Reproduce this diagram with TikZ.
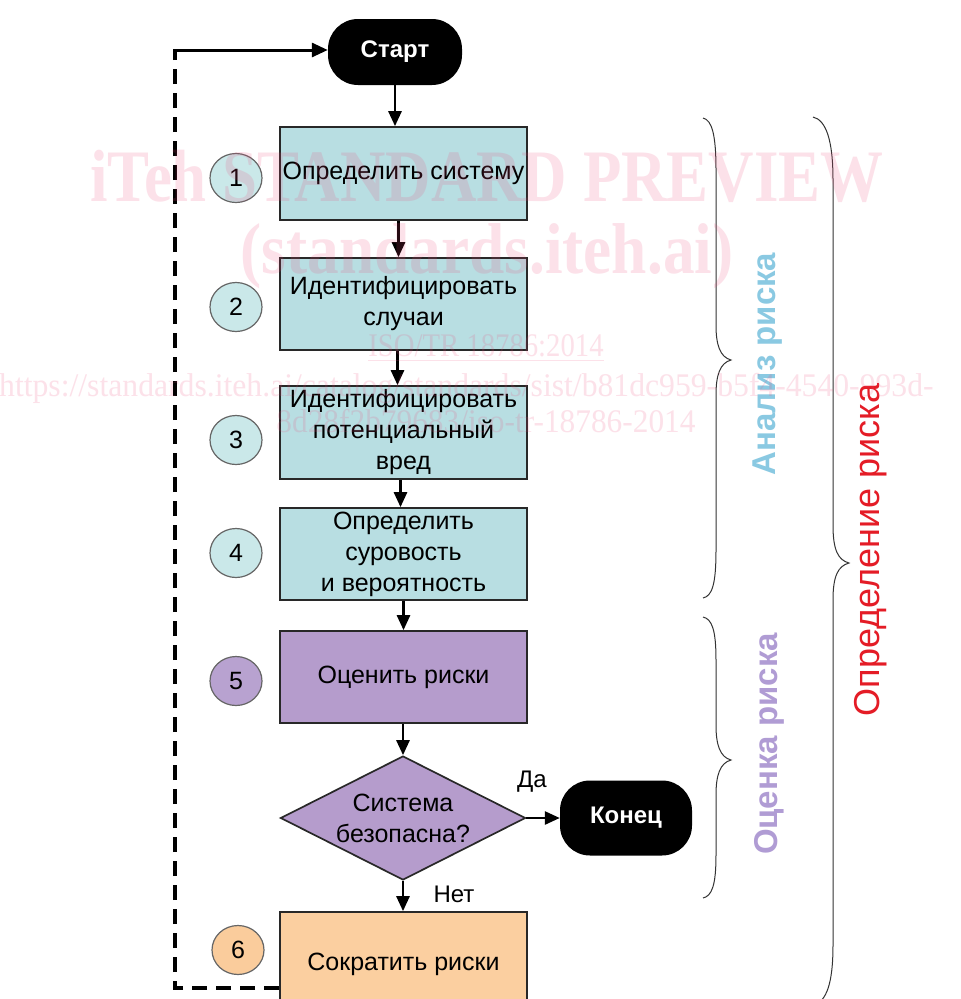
\documentclass[tikz,border=0pt]{standalone}
\usepackage{fontspec}
\setmainfont{Liberation Sans}
\newfontfamily\wmfont{Liberation Serif}
\usetikzlibrary{shapes.geometric,arrows.meta}
\definecolor{boxblue}{RGB}{184,222,226}
\definecolor{numblue}{RGB}{202,232,233}
\definecolor{boxpurple}{RGB}{181,156,204}
\definecolor{numpurple}{RGB}{184,162,208}
\definecolor{boxorange}{RGB}{251,207,160}
\definecolor{numorange}{RGB}{250,204,156}
\definecolor{lblblue}{RGB}{138,201,226}
\definecolor{lblpurple}{RGB}{176,156,212}
\definecolor{lblred}{RGB}{228,28,38}
\definecolor{wmpink}{RGB}{238,70,120}
\definecolor{outline}{RGB}{40,40,40}
\begin{document}
\begin{tikzpicture}[x=1pt,y=-1pt,
  stepbox/.style={draw=outline,line width=1.7pt,minimum width=247pt,inner sep=0pt,align=center,font=\fontsize{25}{31}\selectfont},
  term/.style={fill=black,rounded corners=30pt,minimum width=134pt,minimum height=66pt,inner sep=0pt,text=white,font=\bfseries\fontsize{24}{28}\selectfont},
  num/.style={ellipse,draw=black!60,line width=1.2pt,minimum width=52pt,minimum height=49pt,inner sep=0pt,font=\fontsize{25}{28}\selectfont},
  arr/.style={line width=2.7pt,-{Triangle[length=15pt,width=13pt]}},
  fbarr/.style={line width=3pt,-{Triangle[length=16pt,width=14pt]}},
  fbline/.style={line width=3.6pt,dash pattern=on 15pt off 9pt},
  brace/.style={line width=1pt,draw=black!80},
  lbl/.style={font=\fontsize{24}{28}\selectfont},
  wm/.style={text=wmpink,opacity=0.16,inner sep=0pt}
]
\useasboundingbox (0,0) rectangle (961,999);
\fill[white] (0,0) rectangle (961,999);

% process boxes
\node[stepbox,fill=boxblue,minimum height=93pt] (b1) at (403.5,173.5) {Определить систему};
\node[stepbox,fill=boxblue,minimum height=92pt] (b2) at (403.5,304) {Идентифицировать\\случаи};
\node[stepbox,fill=boxblue,minimum height=93pt] (b3) at (403.5,432.5) {Идентифицировать\\потенциальный\\вред};
\node[stepbox,fill=boxblue,minimum height=92pt] (b4) at (403.5,554) {Определить\\суровость\\и вероятность};
\node[stepbox,fill=boxpurple,minimum height=92pt] (b5) at (403.5,677) {Оценить риски};
\node[stepbox,fill=boxorange,minimum height=104pt] (b6) at (403.5,964) {Сократить риски};

% decision
\node[diamond,shape aspect=2,draw=outline,line width=1.7pt,fill=boxpurple,inner sep=0pt,minimum width=245pt,minimum height=124pt,align=center,font=\fontsize{25}{31}\selectfont] (dec) at (403,818) {Система\\безопасна?};

% terminals
\node[term] (start) at (395,52) {Старт};
\node[term,minimum width=132pt,minimum height=75pt] (end) at (626,818) {Конец};

% step numbers
\node[num,fill=numblue] (n1) at (236,178) {1};
\node[num,fill=numblue] (n2) at (236,307) {2};
\node[num,fill=numblue] (n3) at (236,440) {3};
\node[num,fill=numblue] (n4) at (236,553) {4};
\node[num,fill=numpurple] (n5) at (236,681) {5};
\node[num,fill=numorange] (n6) at (238,950) {6};

% connectors
\draw[arr] (start.south) -- (start.south |- b1.north);
\draw[arr] ([xshift=-5pt]b1.south) -- ([xshift=-5pt]b2.north);
\draw[arr] ([xshift=-6pt]b2.south) -- ([xshift=-6pt]b3.north);
\draw[arr] ([xshift=-3pt]b3.south) -- ([xshift=-3pt]b4.north);
\draw[arr] (b4.south) -- (b5.north);
\draw[arr] (b5.south -| dec.north) -- (dec.north);
\draw[arr] (dec.south) -- (dec.south |- b6.north);
\draw[arr] (dec.east) -- (end.west);

\node[lbl] (yes) at (532,782) {Да};
\node[lbl] (no) at (454,894) {Нет};

% feedback loop
\coordinate (fbb) at (175,988);
\coordinate (fbt) at (175,50);
\draw[fbline] (b6.west |- fbb) -- (fbb) -- (fbt);
\draw[fbarr] ([xshift=-1.8pt]fbt) -- (start.west |- fbt);

% braces
\draw[brace] (703,118) .. controls (712,120) and (716,135) .. (716,170) -- (716,325)
  .. controls (716,345) and (720,357) .. (731,360) .. controls (720,363) and (716,375) .. (716,395)
  -- (716,550) .. controls (716,585) and (712,596) .. (703,598);
\draw[brace] (703,617) .. controls (712,619) and (716,630) .. (716,660) -- (716,725)
  .. controls (716,745) and (720,757) .. (731,760) .. controls (720,763) and (716,775) .. (716,795)
  -- (716,855) .. controls (716,885) and (712,896) .. (703,898);
\draw[brace] (813,117) .. controls (826,120) and (833,140) .. (833,180) -- (833,525)
  .. controls (833,550) and (838,560) .. (849,563) .. controls (838,566) and (833,576) .. (833,600)
  -- (833,945) .. controls (833,985) and (826,1000) .. (815,1005);

\node[rotate=90,text=lblblue,font=\bfseries\fontsize{33}{36}\selectfont] (la) at (768,364) {Анализ риска};
\node[rotate=90,text=lblpurple,font=\bfseries\fontsize{33}{36}\selectfont] (lo) at (769,744) {Оценка риска};
\node[rotate=90,text=lblred,font=\fontsize{36}{40}\selectfont] (lr) at (871,550) {Определение риска};

% watermark
\node[wm,font=\wmfont\bfseries\fontsize{74}{74}\selectfont] (wm1) at (487,176) {\scalebox{0.85}[1]{iTeh STANDARD PREVIEW}};
\node[wm,font=\wmfont\bfseries\fontsize{72}{72}\selectfont] (wm2) at (487,256) {\scalebox{0.88}[1]{(standards.iteh.ai)}};
\node[wm,font=\wmfont\fontsize{33}{33}\selectfont] (wm3) at (486,346) {\scalebox{0.87}[1]{ISO/TR 18786:2014}};
\draw[wmpink,opacity=0.16,line width=1.3pt] ([yshift=-4pt]wm3.base west) -- ([yshift=-4pt]wm3.base east);
\node[wm,font=\wmfont\fontsize{33}{33}\selectfont,anchor=west] (wm4) at (-1,388) {\scalebox{0.96}[1]{https://standards.iteh.ai/catalog/standards/sist/b81dc959-b5f4-4540-993d-}};
\node[wm,font=\wmfont\fontsize{33}{33}\selectfont] (wm5) at (486,421) {\scalebox{0.95}[1]{8d28f2b79683/iso-tr-18786-2014}};
\end{tikzpicture}
\end{document}
